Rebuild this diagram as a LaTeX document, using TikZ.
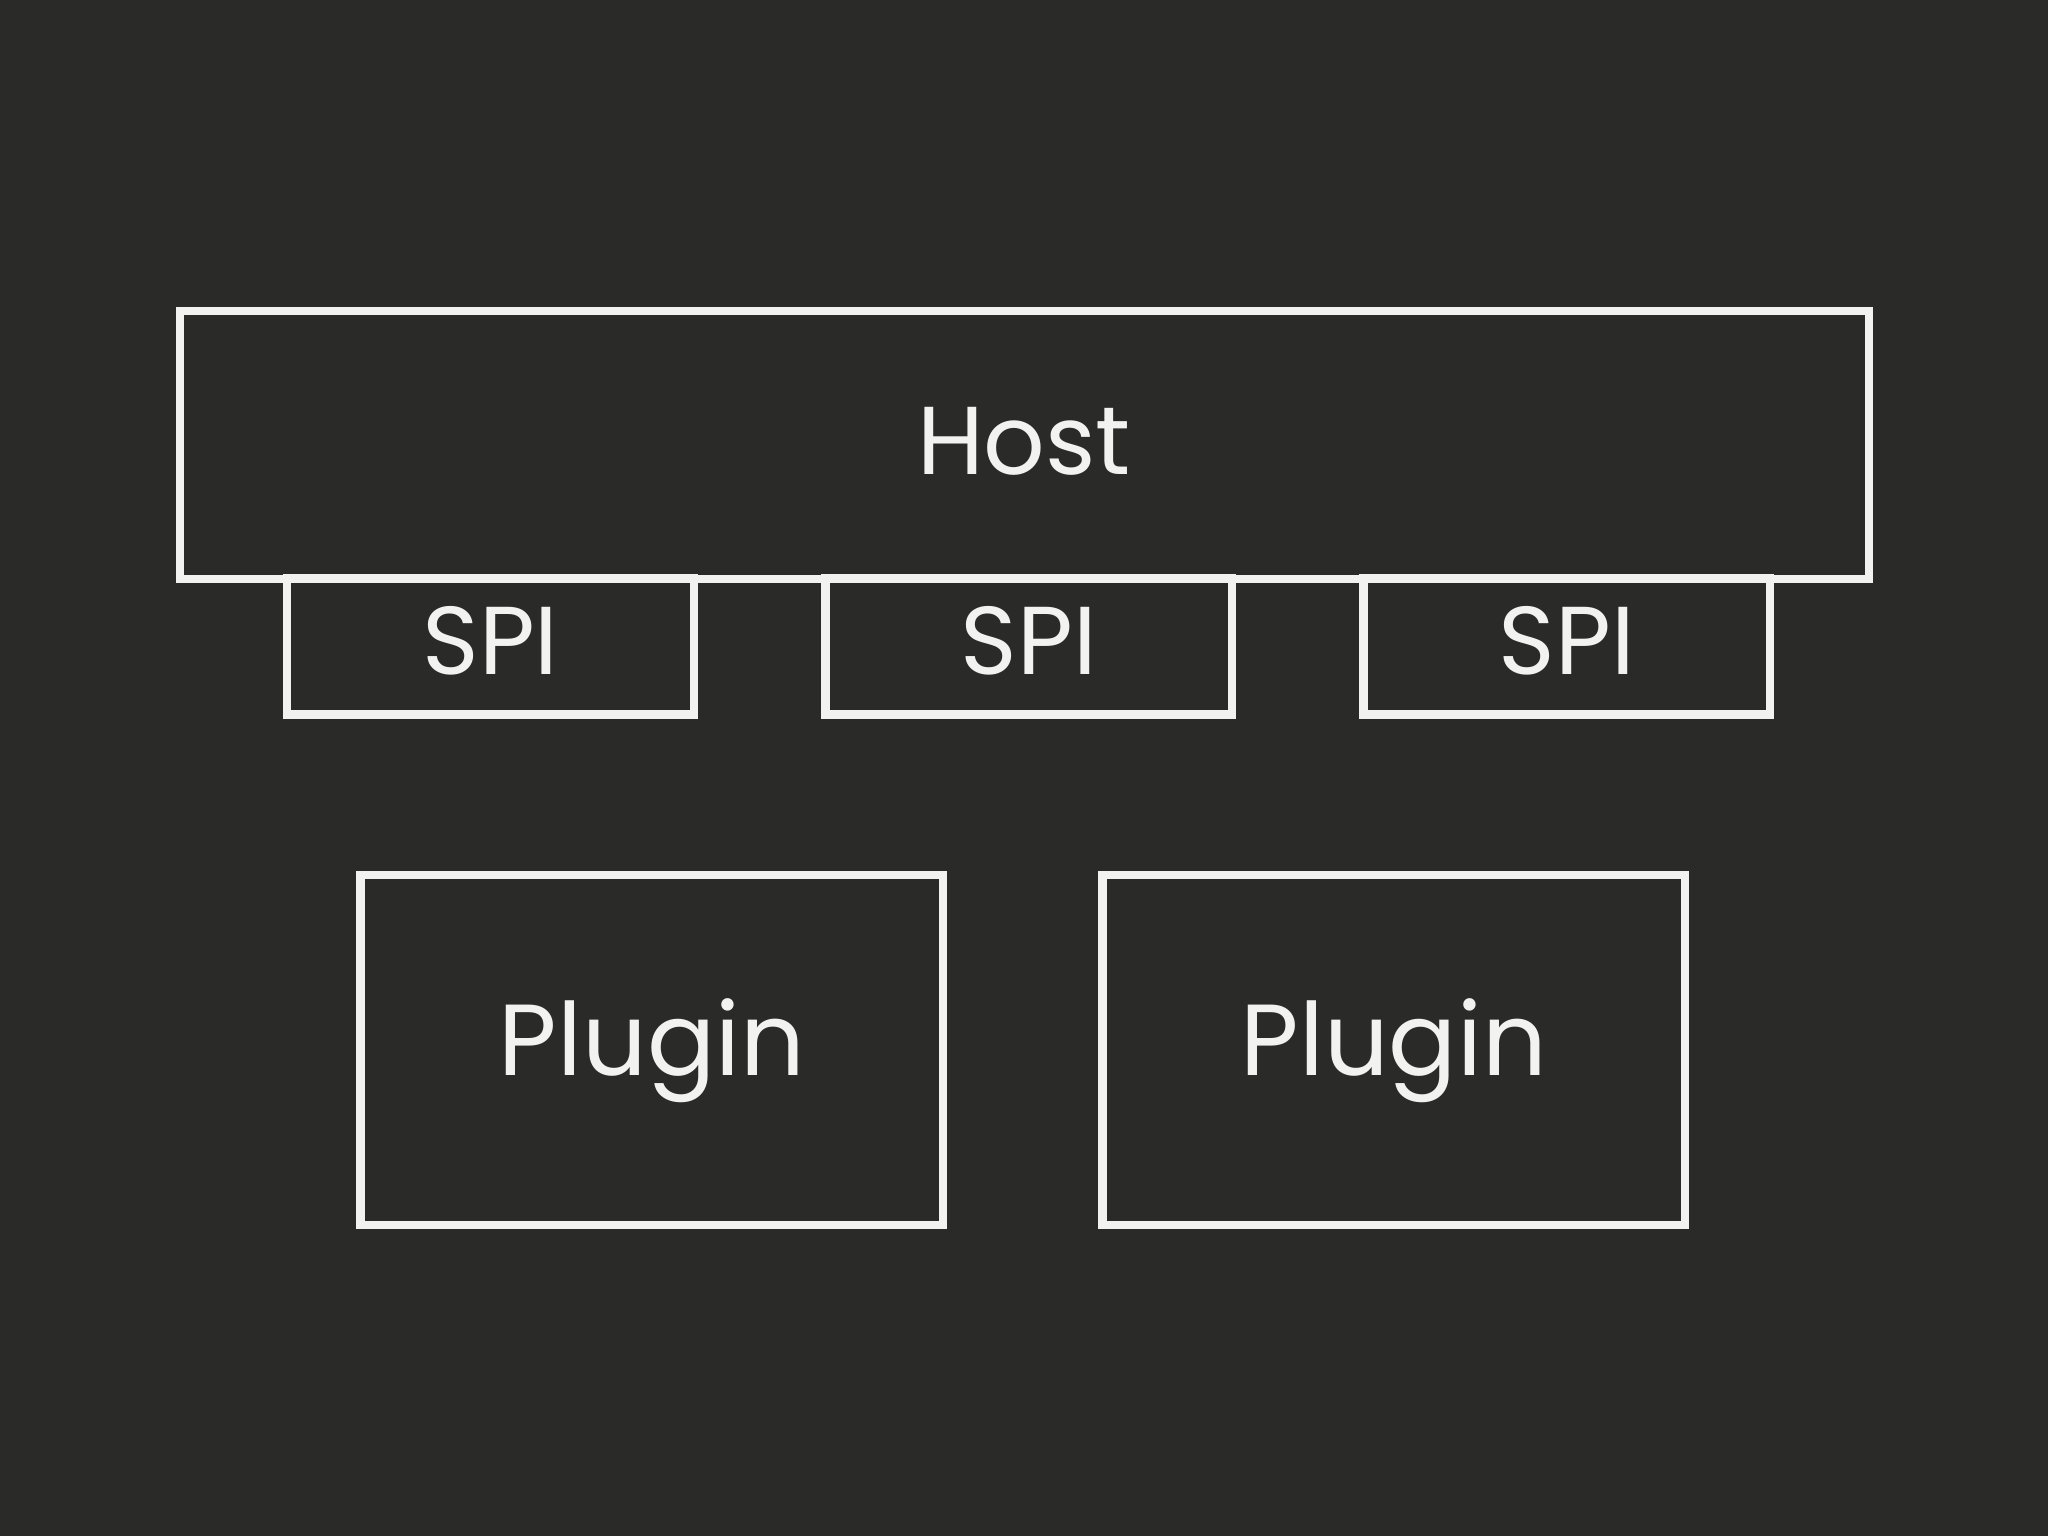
\documentclass[tikz,border=0pt]{standalone}
\usepackage{fontspec}
\setmainfont{Poppins}
\definecolor{bg}{HTML}{2A2A28}
\definecolor{chalk}{HTML}{F2F2F0}
\begin{document}
\begin{tikzpicture}[x=0.01cm,y=-0.01cm,
  box/.style={draw=chalk,line width=1.8pt,inner sep=0pt,outer sep=0pt,anchor=north west},
  lbl/.style={text=chalk,font=\fontsize{21}{24}\selectfont}]
\fill[bg] (0,0) rectangle (1568,1176);
\useasboundingbox (0,0) rectangle (1568,1176);
\node[box,minimum width=12.92cm,minimum height=2.05cm] (host) at (138,238) {};
\node[lbl] (hostt) at (784,338) {Host};
\foreach \x/\n in {220/a,632/b,1044/c}{
  \node[box,minimum width=3.11cm,minimum height=1.04cm] (spi\n) at (\x,443) {};
  \node[lbl] at ([yshift=1.3pt]spi\n.center) {SPI};
}
\node[box,minimum width=4.46cm,minimum height=2.68cm] (p1) at (276,670) {};
\node[lbl,font=\fontsize{22}{26}\selectfont] at (p1.center) {Plugin};
\node[box,minimum width=4.46cm,minimum height=2.68cm] (p2) at (844,670) {};
\node[lbl,font=\fontsize{22}{26}\selectfont] at (p2.center) {Plugin};
\end{tikzpicture}
\end{document}
